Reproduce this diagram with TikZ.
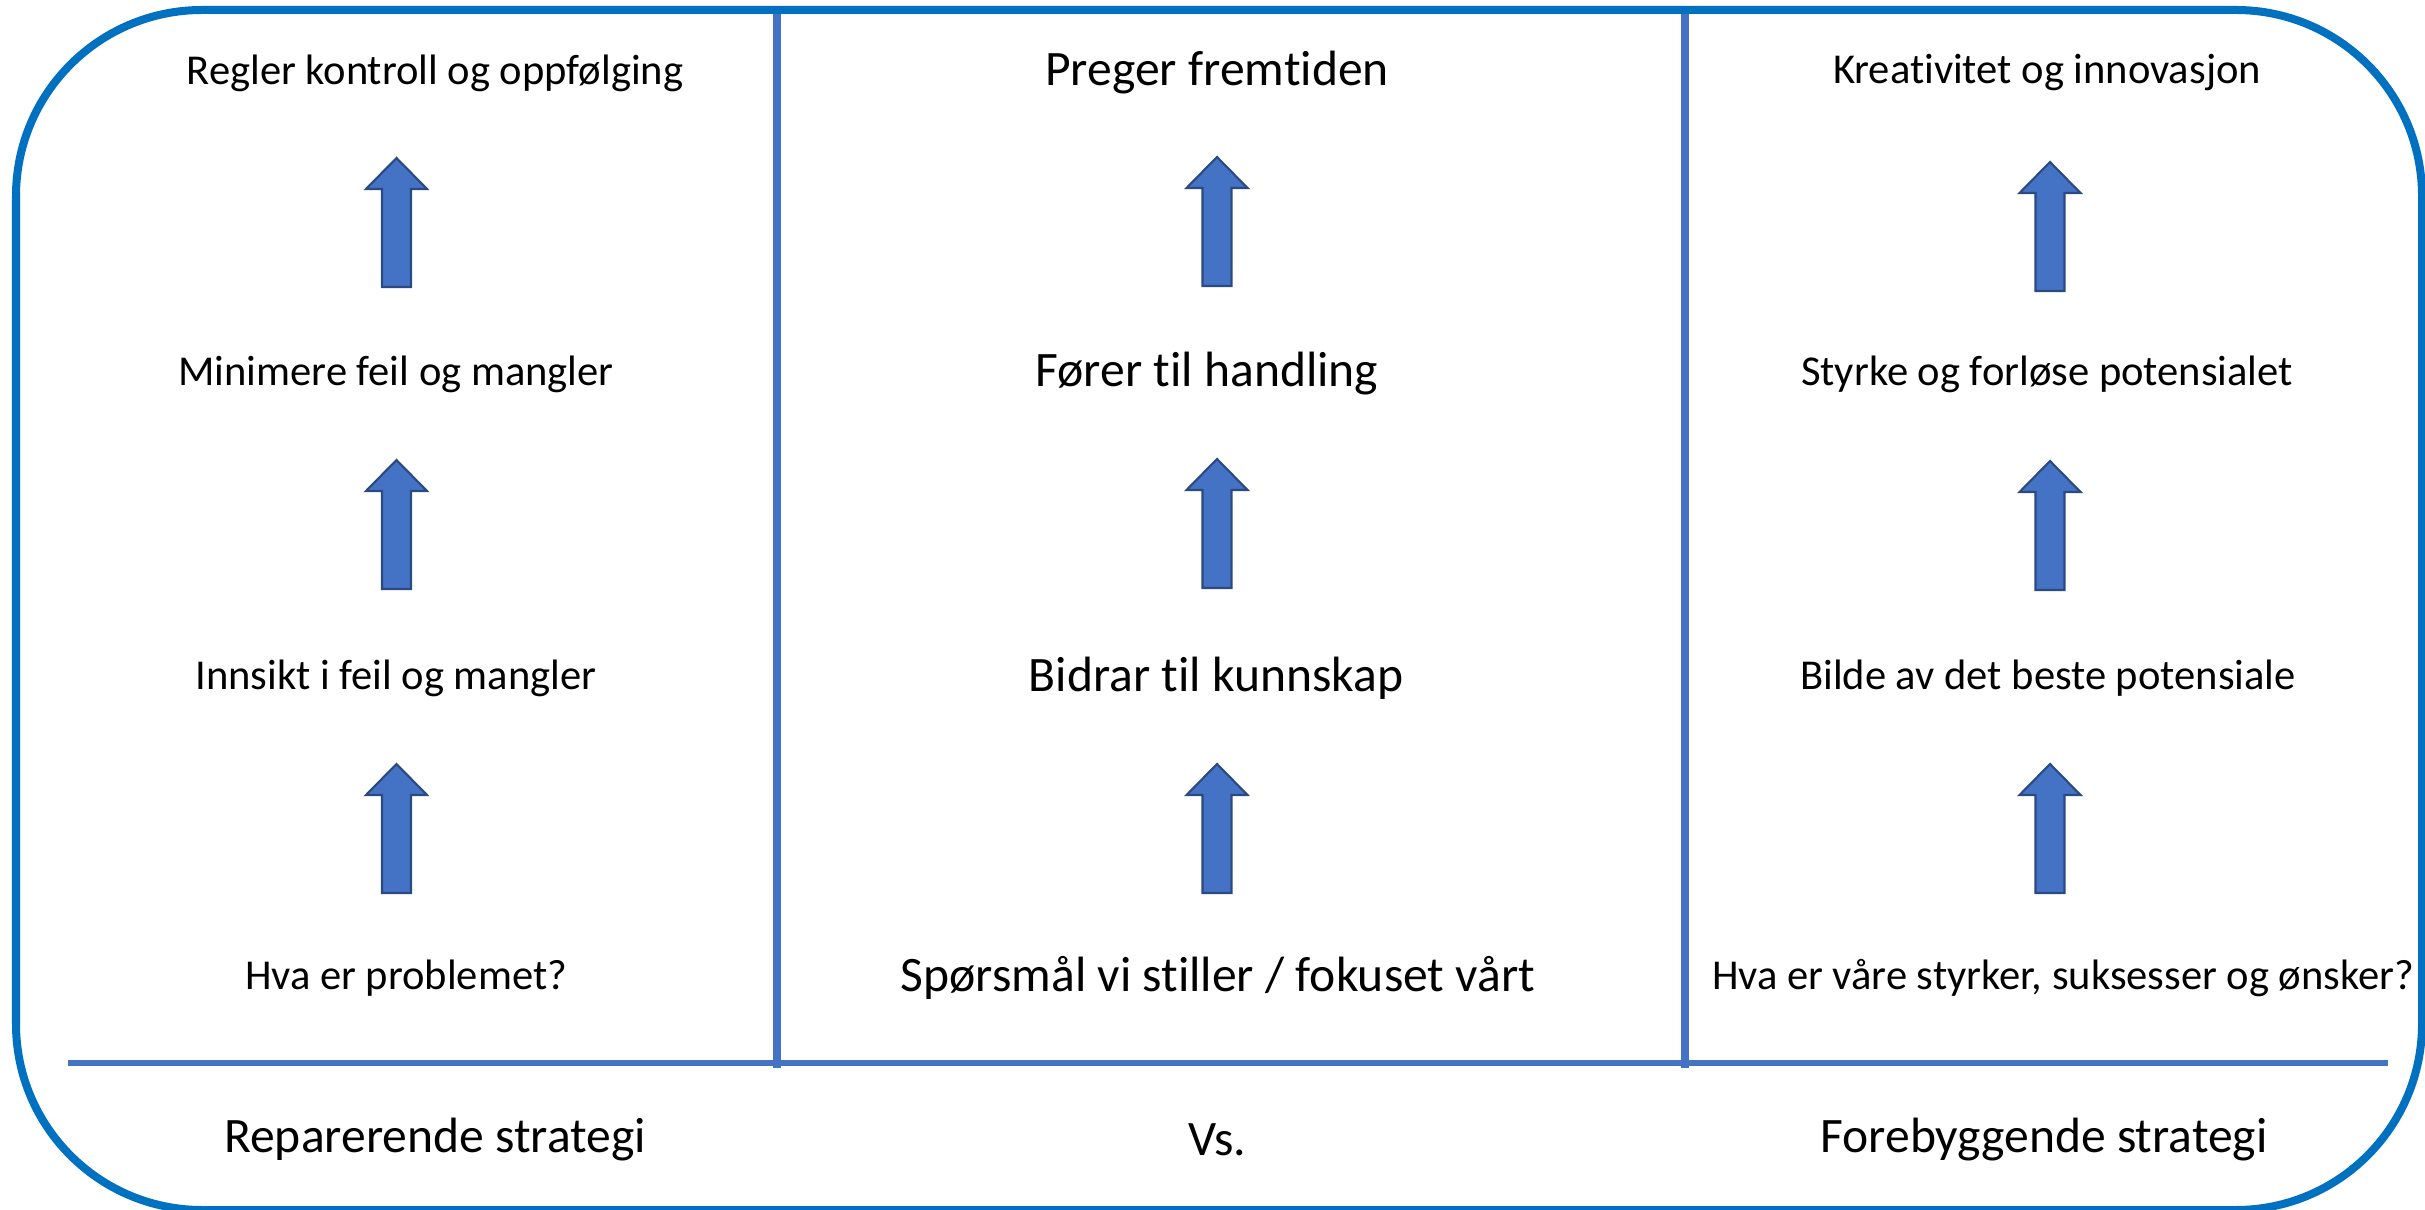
\documentclass[tikz,border=0pt]{standalone}
\usepackage{fontspec}
\setmainfont{Carlito}[Ligatures=NoCommon]
\definecolor{frameblue}{HTML}{0070C0}
\definecolor{lineblue}{HTML}{4472C4}
\definecolor{arrowedge}{HTML}{2A4A80}
\tikzset{
  small/.style={font=\fontsize{12.1}{14}\selectfont},
  big/.style={font=\fontsize{14.1}{16}\selectfont},
  uparrow/.pic={
    \draw[fill=lineblue,draw=arrowedge,line width=0.6pt,line join=miter]
      (0,0) -- (30.5,31) -- (14.5,31) -- (14.5,129) -- (-14.5,129)
      -- (-14.5,31) -- (-30.5,31) -- cycle;
  }
}
\begin{document}
\begin{tikzpicture}[x=0.01cm,y=-0.01cm]
      \useasboundingbox (0,0) rectangle (2425,1210);
      % frame and columns
      \draw[frameblue,line width=0.08cm,rounded corners=1.86cm]
        (16,10) rectangle (2422,1210);
      \begin{scope}[lineblue,line width=0.08cm]
        \draw (777,14) -- (777,1068);
        \draw (1685,14) -- (1685,1068);
      \end{scope}
      \draw[lineblue,line width=0.06cm] (68,1063) -- (2388,1063);
      % left column
      \draw
        (435,73) node[small] (rep4){Regler kontroll og oppfølging}
        (396,374) node[small] (rep3){Minimere feil og mangler}
        (396,678) node[small] (rep2){Innsikt i feil og mangler}
        (406,978) node[small] (rep1){Hva er problemet?}
        (435,1140) node[big] (rep){Reparerende strategi};
      % middle column
      \draw
        (1217,73) node[big] (mid4){Preger fremtiden}
        (1207,374) node[big] (mid3){Fører til handling}
        (1216,678) node[big] (mid2){Bidrar til kunnskap}
        (1218,978) node[big] (mid1){Spørsmål vi stiller / fokuset vårt}
        (1217,1140) node[big] (vs){Vs.};
      % right column
      \draw
        (2047,73) node[small] (fore4){Kreativitet og innovasjon}
        (2047,374) node[small] (fore3){Styrke og forløse potensialet}
        (2048,678) node[small] (fore2){Bilde av det beste potensiale}
        (2063,978) node[small] (fore1){Hva er våre styrker, suksesser og ønsker?}
        (2044,1140) node[big] (fore){Forebyggende strategi};
      % arrows
      \pic at (396.5,158) {uparrow};
      \pic at (396.5,460) {uparrow};
      \pic at (396.5,764) {uparrow};
      \pic at (1217,157) {uparrow};
      \pic at (1217,459) {uparrow};
      \pic at (1217,764) {uparrow};
      \pic at (2050,162) {uparrow};
      \pic at (2050,461) {uparrow};
      \pic at (2050,764) {uparrow};
    \end{tikzpicture}
\end{document}
